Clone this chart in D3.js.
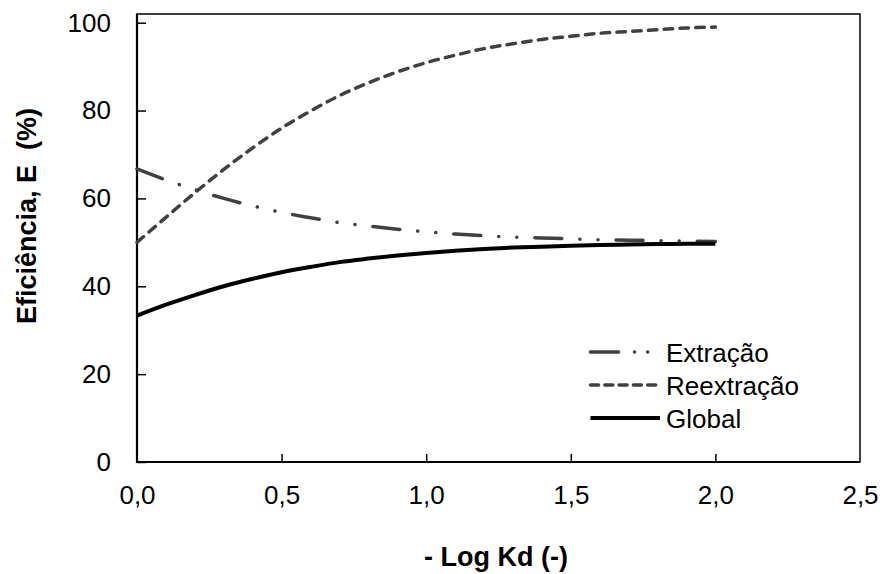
<!DOCTYPE html>
<html>
<head>
<meta charset="utf-8">
<style>
  body { margin: 0; background: #fff; }
  svg { font-family: "Liberation Sans", Arial, sans-serif; }
</style>
</head>
<body>
<div class="chart"></div>
<script src="https://cdnjs.cloudflare.com/ajax/libs/d3/7.8.5/d3.min.js"></script>
<script>
// eixo x: - log Kd
const logKd = [0.0, 0.1, 0.2, 0.3, 0.4, 0.5, 0.6, 0.7, 0.8, 0.9, 1.0,
               1.1, 1.2, 1.3, 1.4, 1.5, 1.6, 1.7, 1.8, 1.9, 2.0];
// eficiências (%)
const extracao = [66.7, 64.2, 62.0, 60.0, 58.3, 56.8, 55.6, 54.5, 53.7, 53.0, 52.4,
                  51.9, 51.5, 51.2, 51.0, 50.8, 50.6, 50.5, 50.4, 50.3, 50.2];
const reextracao = [50.0, 55.7, 61.3, 66.6, 71.5, 76.0, 79.9, 83.4, 86.3, 88.8, 90.9,
                    92.6, 94.1, 95.2, 96.2, 96.9, 97.6, 98.0, 98.4, 98.8, 99.0];
const globalE = [33.3, 35.8, 38.0, 40.0, 41.7, 43.2, 44.4, 45.5, 46.3, 47.0, 47.6,
                 48.1, 48.5, 48.8, 49.0, 49.2, 49.4, 49.5, 49.6, 49.7, 49.7];
const xTicks = [0, 0.5, 1.0, 1.5, 2.0, 2.5];
const yTicks = [0, 20, 40, 60, 80, 100];

const width = 883, height = 574;
const plotLeft = 137, plotRight = 860, plotTop = 14, plotBottom = 462;
const fontSize = 26;

const svg = d3.select('.chart').append('svg')
  .attr('width', width).attr('height', height);

const xScale = d3.scaleLinear().domain([0, 2.5]).range([plotLeft, plotRight]);
const yScale = d3.scaleLinear().domain([0, 100]).range([plotBottom, 22.7]);

// moldura
svg.append('rect')
  .attr('x', plotLeft).attr('y', plotTop)
  .attr('width', plotRight - plotLeft).attr('height', plotBottom - plotTop)
  .attr('fill', 'none').attr('stroke', '#000').attr('stroke-width', 1.5);

// eixo x (ticks para dentro)
const xAxis = d3.axisBottom(xScale)
  .tickValues(xTicks)
  .tickSizeInner(-8).tickSizeOuter(0)
  .tickPadding(24)
  .tickFormat(d => d3.format('.1f')(d).replace('.', ','));
const gx = svg.append('g')
  .attr('transform', `translate(0,${plotBottom})`)
  .call(xAxis);

// eixo y
const yAxis = d3.axisLeft(yScale)
  .tickValues(yTicks)
  .tickSizeInner(-9).tickSizeOuter(0)
  .tickPadding(26);
const gy = svg.append('g')
  .attr('transform', `translate(${plotLeft},0)`)
  .call(yAxis);

[gx, gy].forEach(g => {
  g.select('.domain').remove();
  g.selectAll('line').attr('stroke', '#000').attr('stroke-width', 1.5);
  g.selectAll('text').attr('font-size', fontSize).attr('fill', '#000')
    .style('font-family', '"Liberation Sans", Arial, sans-serif');
});
gx.selectAll('.tick').filter(d => d === 0 || d === 2.5).select('line').remove();

// linhas dos eixos mais grossas
svg.append('line').attr('x1', plotLeft).attr('x2', plotLeft).attr('y1', plotTop).attr('y2', plotBottom + 1)
  .attr('stroke', '#000').attr('stroke-width', 2.2);
svg.append('line').attr('x1', plotLeft - 1).attr('x2', plotRight).attr('y1', plotBottom).attr('y2', plotBottom)
  .attr('stroke', '#000').attr('stroke-width', 2.2);

// séries
const series = [
  { name: 'Extração', values: extracao, color: '#404040', dash: '27,18,0.1,18,0.1,18',
    legendDash: '28,16,0.1,13,0.1,30', w: 3.5 },
  { name: 'Reextração', values: reextracao, color: '#404040', dash: '8.5,7.3',
    legendDash: '8,6.3', w: 3.5 },
  { name: 'Global', values: globalE, color: '#000', dash: null, legendDash: null, w: 4 }
];

const line = d3.line()
  .x((d, i) => xScale(logKd[i]))
  .y(d => yScale(d))
  .curve(d3.curveMonotoneX);

series.forEach(s => {
  svg.append('path')
    .datum(s.values)
    .attr('d', line)
    .attr('fill', 'none')
    .attr('stroke', s.color)
    .attr('stroke-width', s.w)
    .attr('stroke-linecap', s.dash ? 'round' : 'butt')
    .attr('stroke-dasharray', s.dash);
});

// legenda
const legend = svg.append('g');
series.forEach((s, i) => {
  const y = 352 + i * 33;
  legend.append('line')
    .attr('x1', 590.5).attr('x2', 660).attr('y1', y).attr('y2', y)
    .attr('stroke', s.color).attr('stroke-width', s.w)
    .attr('stroke-linecap', s.dash ? 'round' : 'butt')
    .attr('stroke-dasharray', s.legendDash);
  legend.append('text')
    .attr('x', 666).attr('y', y + 10)
    .attr('font-size', fontSize).text(s.name);
});

// títulos dos eixos
svg.append('text')
  .attr('transform', `translate(36,216) rotate(-90)`)
  .attr('text-anchor', 'middle')
  .attr('font-size', 27).attr('font-weight', 'bold')
  .attr('xml:space', 'preserve')
  .text('Eficiência, E  (%)');

svg.append('text')
  .attr('x', 496).attr('y', 566)
  .attr('text-anchor', 'middle')
  .attr('font-size', 27).attr('font-weight', 'bold')
  .text('- Log Kd (-)');
</script>
</body>
</html>
